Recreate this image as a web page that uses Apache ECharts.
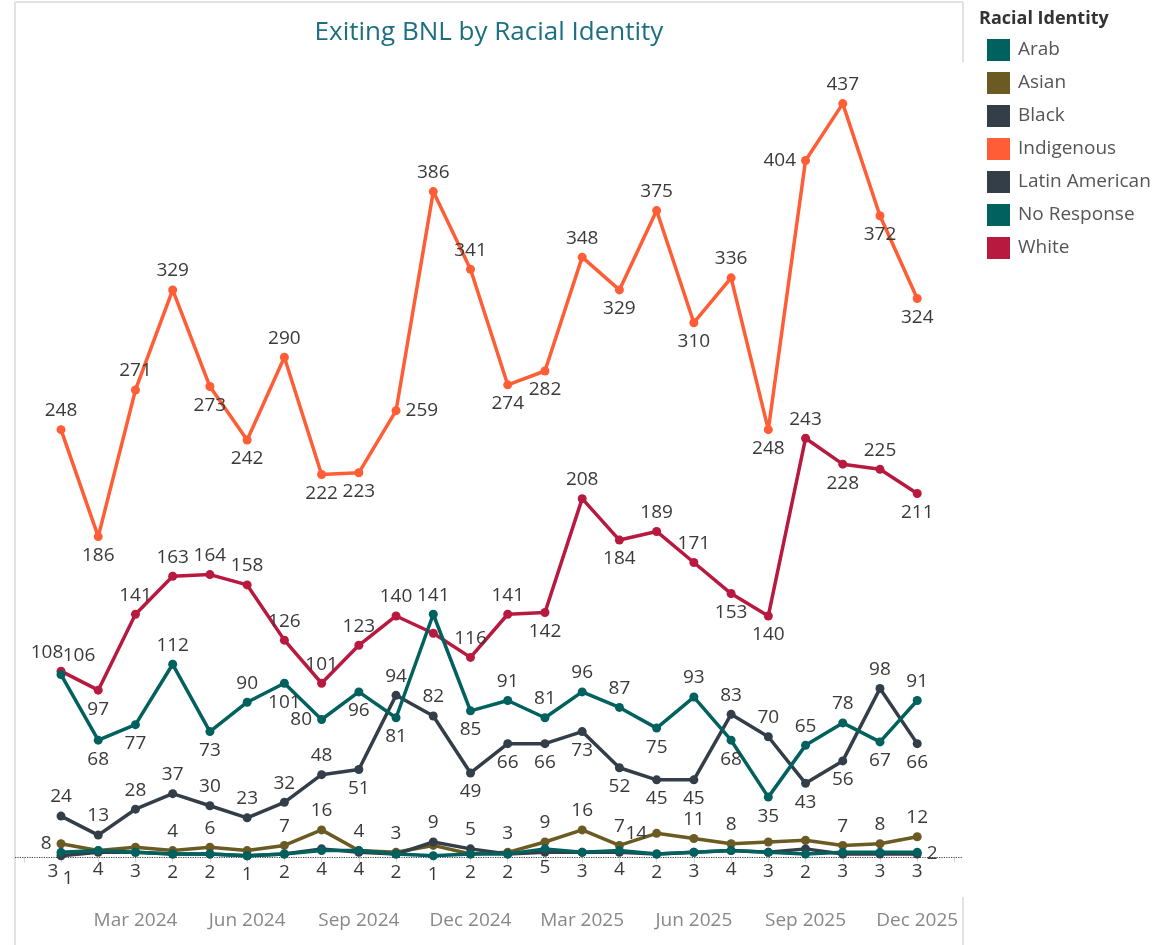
<!DOCTYPE html>
<html>
<head>
<meta charset="utf-8">
<title>Exiting BNL by Racial Identity</title>
<script src="https://cdn.jsdelivr.net/npm/echarts@6/dist/echarts.min.js"></script>
<style>
  html, body { margin: 0; padding: 0; background: #fff; }
  #main { width: 1174px; height: 945px; }
</style>
</head>
<body>
<div id="main"></div>
<script>
// months, Jan 2024 .. Dec 2025
var months = ['Jan 2024', 'Feb 2024', 'Mar 2024', 'Apr 2024', 'May 2024', 'Jun 2024',
  'Jul 2024', 'Aug 2024', 'Sep 2024', 'Oct 2024', 'Nov 2024', 'Dec 2024',
  'Jan 2025', 'Feb 2025', 'Mar 2025', 'Apr 2025', 'May 2025', 'Jun 2025',
  'Jul 2025', 'Aug 2025', 'Sep 2025', 'Oct 2025', 'Nov 2025', 'Dec 2025'];

var arab       = [3, 4, 3, 2, 2, 1, 2, 4, 4, 2, 1, 2, 2, 5, 3, 4, 2, 3, 4, 3, 2, 3, 3, 3];
var asian      = [8, 4, 6, 4, 6, 4, 7, 16, 4, 3, 7, 2, 3, 9, 16, 7, 14, 11, 8, 9, 10, 7, 8, 12];
var black      = [24, 13, 28, 37, 30, 23, 32, 48, 51, 94, 82, 49, 66, 66, 73, 52, 45, 45, 83, 70, 43, 56, 98, 66];
var indigenous = [248, 186, 271, 329, 273, 242, 290, 222, 223, 259, 386, 341, 274, 282, 348, 329, 375, 310, 336, 248, 404, 437, 372, 324];
var latinAm    = [1, 3, 3, 2, 2, 1, 2, 5, 3, 2, 9, 5, 2, 3, 3, 3, 2, 3, 4, 3, 5, 2, 2, 2];
var noResponse = [106, 68, 77, 112, 73, 90, 101, 80, 96, 81, 141, 85, 91, 81, 96, 87, 75, 93, 68, 35, 65, 78, 67, 91];
var white      = [108, 97, 141, 163, 164, 158, 126, 101, 123, 140, 130, 116, 141, 142, 208, 184, 189, 171, 153, 140, 243, 228, 225, 211];

// where each value label sits: t=top b=bottom l=left r=right n=hidden
var labelPos = {
  'Arab':           'bbbbbbbbbbbbbbbbbbbbbbbb',
  'Asian':          'lnnttnttttnnttttlttnnttt',
  'Black':          'ttttttttbttbbbbbbbttbbtb',
  'Indigenous':     'tbttbbtbbrttbbtbtbtbltbb',
  'Latin American': 'bnnnnnnnnnttnnnnnnnnnnnr',
  'No Response':    'tbbtbtblbbtbttttbtbbttbt',
  'White':          'tbttttttttnttbtbttbbtbtb'
};
// small nudges where labels sit on top of each other
var labelNudge = {
  'White:0': [-14, 0],
  'No Response:0': [18, 0],
  'Arab:0': [-8, 0],
  'Latin American:0': [7, 4]
};

var FONT = '"Open Sans", sans-serif';
var posName = { t: 'top', b: 'bottom', l: 'left', r: 'right' };

function buildData(name, vals) {
  var codes = labelPos[name];
  return vals.map(function (v, i) {
    var c = codes.charAt(i);
    var lab = { show: c !== 'n' };
    if (c !== 'n') lab.position = posName[c];
    var nud = labelNudge[name + ':' + i];
    if (nud) lab.offset = nud;
    return { value: [i, v], label: lab };
  });
}

function makeSeries(name, vals, color, z) {
  return {
    name: name,
    type: 'line',
    data: buildData(name, vals),
    symbol: 'circle',
    symbolSize: 9,
    z: z,
    itemStyle: { color: color },
    lineStyle: { color: color, width: 3.5 },
    label: {
      show: true,
      color: '#3a3a3a',
      fontSize: 19,
      fontFamily: FONT,
      distance: 5,
      formatter: function (p) { return p.value[1]; }
    },
    emphasis: { disabled: true }
  };
}

var tickIdx = [];
for (var k = -1; k <= months.length; k++) tickIdx.push(k);
var labelIdx = months.map(function (m, i) { return i; }).filter(function (i) { return i % 3 === 2; });

var chart = echarts.init(document.getElementById('main'));

var arabSeries = makeSeries('Arab', arab, '#00615f', 7);
arabSeries.markLine = {
  silent: true,
  symbol: ['none', 'none'],
  label: { show: false },
  lineStyle: { type: 'dotted', color: '#444', width: 1.2 },
  data: [{ yAxis: 0 }]
};

chart.setOption({
  animation: false,
  backgroundColor: '#fff',
  textStyle: { fontFamily: FONT },
  graphic: [
    { type: 'line', shape: { x1: 15, y1: 2, x2: 15, y2: 945 }, style: { stroke: '#e2e2e2', lineWidth: 2 } },
    { type: 'line', shape: { x1: 15, y1: 2, x2: 963, y2: 2 }, style: { stroke: '#e2e2e2', lineWidth: 2 } },
    { type: 'line', shape: { x1: 963, y1: 2, x2: 963, y2: 62 }, style: { stroke: '#e2e2e2', lineWidth: 2 } },
    { type: 'line', shape: { x1: 963, y1: 897, x2: 963, y2: 945 }, style: { stroke: '#e2e2e2', lineWidth: 2 } },
    {
      type: 'text', x: 489, y: 33,
      style: { text: 'Exiting BNL by Racial Identity', x: 0, y: 0, textAlign: 'center', textVerticalAlign: 'middle',
        font: '26px "Open Sans", sans-serif', fill: '#1c6f80' }
    },
    {
      type: 'text', x: 979, y: 19,
      style: { text: 'Racial Identity', textVerticalAlign: 'middle',
        font: 'bold 18px "Open Sans", sans-serif', fill: '#333' }
    }
  ],
  legend: {
    orient: 'vertical',
    left: 982,
    top: 34,
    icon: 'rect',
    itemWidth: 23,
    itemHeight: 22,
    itemGap: 11,
    selectedMode: false,
    itemStyle: { borderWidth: 0 },
    textStyle: { fontSize: 19, color: '#555', fontFamily: FONT, padding: [0, 0, 0, 3] },
    data: ['Arab', 'Asian', 'Black', 'Indigenous', 'Latin American', 'No Response', 'White']
  },
  grid: { left: 15, right: 211, top: 2, bottom: 48 },
  xAxis: {
    type: 'value',
    min: -1.236,
    max: 24.23,
    axisLine: { show: false },
    splitLine: { show: false },
    axisTick: { show: true, customValues: tickIdx, length: 5, lineStyle: { color: '#d6d6d6' } },
    axisLabel: {
      customValues: labelIdx,
      fontSize: 19,
      color: '#888',
      fontFamily: FONT,
      margin: 14,
      formatter: function (v) { return months[v]; }
    }
  },
  yAxis: {
    type: 'value',
    min: -22.9,
    max: 495.9,
    axisLine: { show: false },
    axisTick: { show: false },
    axisLabel: { show: false },
    splitLine: { show: false }
  },
  series: [
    makeSeries('Indigenous', indigenous, '#ff5d36', 2),
    makeSeries('White', white, '#b8193f', 3),
    makeSeries('Black', black, '#333e48', 4),
    makeSeries('No Response', noResponse, '#00615f', 5),
    makeSeries('Asian', asian, '#6b5b23', 6),
    makeSeries('Latin American', latinAm, '#333e48', 6),
    arabSeries
  ]
});
</script>
</body>
</html>
